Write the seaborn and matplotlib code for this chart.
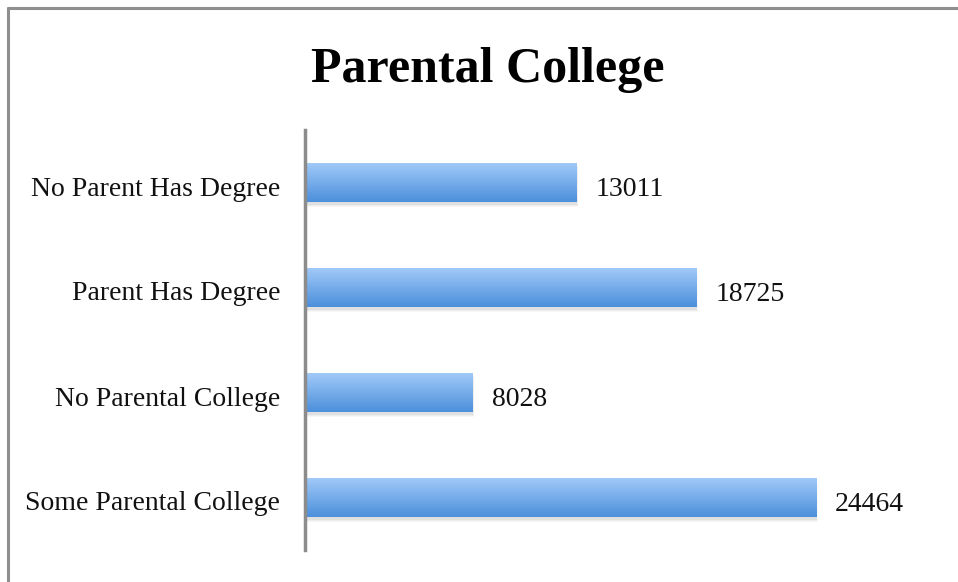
import numpy as np
import pandas as pd
import matplotlib
matplotlib.use("Agg")
import matplotlib.pyplot as plt
import matplotlib.transforms as mtransforms
import seaborn as sns
from matplotlib.colors import LinearSegmentedColormap
from matplotlib.patches import Rectangle
from matplotlib.lines import Line2D

categories = ["No Parent Has Degree", "Parent Has Degree", "No Parental College", "Some Parental College"]
values = [13011, 18725, 8028, 24464]
title = "Parental College"

df = pd.DataFrame({"category": categories, "value": values})

sns.set_theme(style="white")
plt.rcParams['font.family'] = ['Liberation Serif', 'DejaVu Serif']

fig = plt.figure(figsize=(9.58, 5.82), dpi=100)
ax = fig.add_axes([305/958, 32/582, 627/958, 420/582])

sns.barplot(data=df, x="value", y="category", orient="h", color="#6aa6e8",
            width=0.38, ax=ax, zorder=2)

cmap = LinearSegmentedColormap.from_list("g", ["#a3cbf9", "#4b8fdb"])
grad = np.linspace(0, 1, 256).reshape(-1, 1)
down = mtransforms.ScaledTranslation(0, -3.5 / 100, fig.dpi_scale_trans)
down_v = mtransforms.ScaledTranslation(0, -7 / 100, fig.dpi_scale_trans)
for p in list(ax.patches):
    x0, y0 = p.get_x(), p.get_y()
    w, h = p.get_width(), p.get_height()
    p.set_alpha(0)
    # soft shadow
    for k, a in enumerate([0.05, 0.04, 0.03]):
        d = 0.012 * (k + 1)
        sh = Rectangle((x0 + 20, y0 + d + 0.01), w + 20 * k, h, facecolor="#000000",
                       alpha=a, edgecolor="none", zorder=1)
        ax.add_patch(sh)
    im = ax.imshow(grad, cmap=cmap, aspect="auto", extent=[x0, x0 + w, y0 + h, y0],
                   zorder=3, interpolation="bilinear")
    clip = Rectangle((x0, y0), w, h, transform=ax.transData)
    im.set_clip_path(clip)
    ax.text(x0 + w + 900, y0 + h / 2, f"{int(w)}", va="center", ha="left",
            fontsize=20, color="#111111", zorder=4, transform=ax.transData + down_v)
ax.set_xlim(0, 30000)
ax.set_ylim(3.5, -0.5)

for s in ["top", "right", "bottom"]:
    ax.spines[s].set_visible(False)
ax.spines["left"].set_color("#8c8c8c")
ax.spines["left"].set_linewidth(2.5)
ax.spines["left"].set_zorder(5)
ax.set_xticks([])
ax.tick_params(axis="y", length=0, labelsize=20, pad=18, labelcolor="#111111")
for t in ax.get_yticklabels():
    t.set_transform(t.get_transform() + down)
ax.set_xlabel("")
ax.set_ylabel("")

fig.text(488/958, 1 - 70/582, title, ha="center", va="center", fontsize=36,
         fontweight="bold", color="#000000")

# outer frame (top and left)
fig.add_artist(Line2D([8/958, 1], [1 - 8/582, 1 - 8/582], color="#8f8f8f", lw=2.2,
                      transform=fig.transFigure))
fig.add_artist(Line2D([8/958, 8/958], [0, 1 - 8/582], color="#8f8f8f", lw=2.2,
                      transform=fig.transFigure))

fig.savefig("out.png", dpi=100)
